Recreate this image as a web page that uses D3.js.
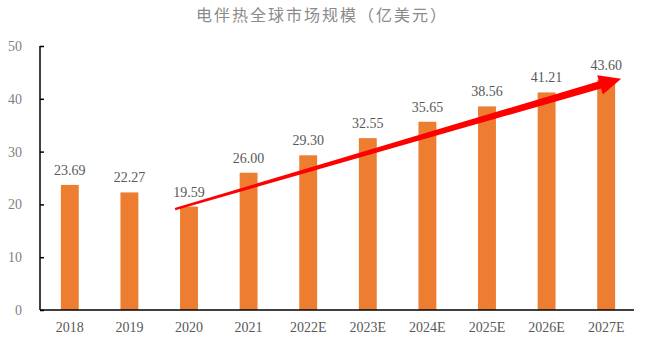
<!DOCTYPE html>
<html><head><meta charset="utf-8">
<script src="https://cdn.jsdelivr.net/npm/d3@7"></script>
<style>body{margin:0;background:#fff;}svg{display:block;}</style>
</head><body>
<svg id="c" width="645" height="343"></svg>
<script>
const title = "电伴热全球市场规模（亿美元）";
const categories = ["2018","2019","2020","2021","2022E","2023E","2024E","2025E","2026E","2027E"];
const values = [23.69,22.27,19.59,26.00,29.30,32.55,35.65,38.56,41.21,43.60];
const yTicks = [0,10,20,30,40,50];
const arrowFrom = {cat:"2020", value:19.1};
const arrowTo = {cat:"2027E", value:43.8};

const svg = d3.select("#c");
const x = d3.scaleBand().domain(categories).range([40,636]).paddingInner(0.7).paddingOuter(0.35);
const y = d3.scaleLinear().domain([0,50]).range([310,46]);
const serif = "'Liberation Serif','Times New Roman',serif";

svg.append("text").attr("x",322).attr("y",21).attr("text-anchor","middle")
  .attr("font-family","'Noto Sans CJK SC',sans-serif").attr("font-size",16).attr("fill","#8a8a8a")
  .attr("letter-spacing",2).text(title);

// bars
svg.selectAll("rect.bar").data(values).join("rect").attr("class","bar")
  .attr("x",(d,i)=>x(categories[i])).attr("width",x.bandwidth())
  .attr("y",d=>y(d)).attr("height",d=>y(0)-y(d)).attr("fill","#ED7D31");

svg.selectAll("text.val").data(values).join("text").attr("class","val")
  .attr("x",(d,i)=>x(categories[i])+x.bandwidth()/2).attr("y",d=>y(d)-10)
  .attr("text-anchor","middle").attr("font-family",serif).attr("font-size",14).attr("fill","#595959")
  .text(d=>d.toFixed(2));

// axes
const ya = d3.axisLeft(y).tickValues(yTicks).tickSize(-4).tickPadding(18);
const gy = svg.append("g").attr("transform","translate(40,0)").call(ya);
gy.select(".domain").attr("stroke","#000").attr("stroke-width",1.5).attr("d","M0,46V310");
gy.selectAll(".tick line").attr("stroke","#000").attr("stroke-width",1.5);
gy.selectAll("text").attr("font-family",serif).attr("font-size",14).attr("fill","#7f7f7f");

const xa = d3.axisBottom(x).tickSize(0).tickPadding(12);
const gx = svg.append("g").attr("transform","translate(0,310)").call(xa);
gx.select(".domain").attr("stroke","#000").attr("stroke-width",1.5).attr("d","M40,0H634");
gx.selectAll("text").attr("font-family",serif).attr("font-size",14).attr("fill","#595959");

// arrow (tapered)
const x0 = x(arrowFrom.cat) - 5, y0 = y(arrowFrom.value);
const x1 = x(arrowTo.cat) + x.bandwidth() + 6, y1 = y(arrowTo.value);
const dx = x1-x0, dy = y1-y0, L = Math.hypot(dx,dy);
const ux = dx/L, uy = dy/L, nx = -uy, ny = ux;
const headLen = 22, headW = 10, w0 = 1.2, w1 = 3.8;
const bx = x1 - ux*headLen, by = y1 - uy*headLen;
const pts = [
  [x0+nx*w0, y0+ny*w0],
  [bx+nx*w1, by+ny*w1],
  [bx+nx*headW, by+ny*headW],
  [x1, y1],
  [bx-nx*headW, by-ny*headW],
  [bx-nx*w1, by-ny*w1],
  [x0-nx*w0, y0-ny*w0]
];
svg.append("path").attr("d", d3.line()(pts)+"Z").attr("fill","#FF0000");
</script>
</body></html>
